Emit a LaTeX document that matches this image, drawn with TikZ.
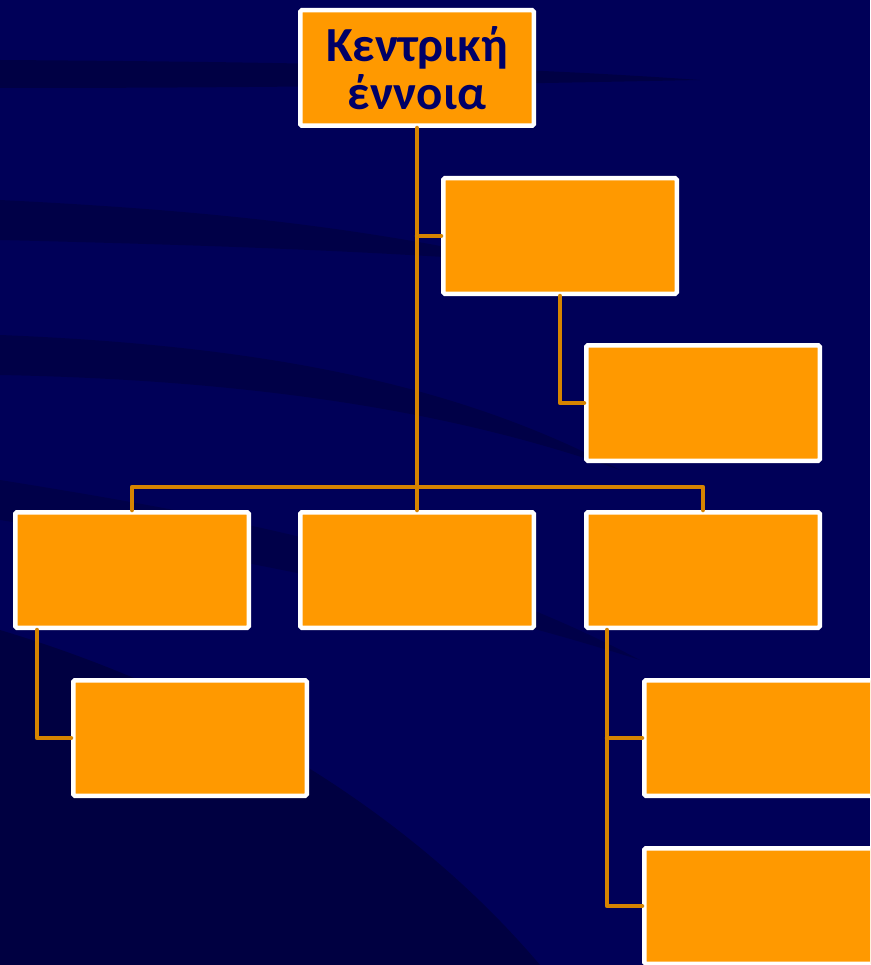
\documentclass[tikz,border=0pt]{standalone}
\usepackage{fontspec}
\setmainfont{Carlito}
\begin{document}
\begin{tikzpicture}[x=1pt,y=-1pt,
  box/.style={rectangle, draw=white, line width=4.5pt, fill=boxorange, rounded corners=1.5pt,
    minimum width=233.5pt, minimum height=115.5pt, inner sep=0pt},
  conn/.style={draw=connorange, line width=4.5pt, line cap=round, line join=round},
  streak/.style={fill=streakcol, draw=none}]
\definecolor{bgblue}{RGB}{0,0,88}
\definecolor{streakcol}{RGB}{0,0,60}
\definecolor{boxorange}{RGB}{255,153,0}
\definecolor{connorange}{RGB}{214,132,0}
\definecolor{textnavy}{RGB}{0,0,102}
\useasboundingbox (0,0) rectangle (870,965);
\clip (0,0) rectangle (870,965);
\fill[bgblue] (0,0) rectangle (870,965);
% background streaks
\fill[streak, opacity=0.7] (0,60) .. controls (300,62) and (500,66) .. (700,80) .. controls (500,84) and (300,88) .. (0,88) -- cycle;
\fill[streak, opacity=0.6] (0,200) .. controls (200,210) and (350,225) .. (520,262) .. controls (350,250) and (200,245) .. (0,240) -- cycle;
\fill[streak, opacity=0.6] (0,335) .. controls (250,345) and (450,380) .. (620,470) .. controls (450,410) and (250,380) .. (0,375) -- cycle;
\fill[streak, opacity=0.5] (0,480) .. controls (250,520) and (450,560) .. (640,660) .. controls (450,600) and (250,560) .. (0,520) -- cycle;
\fill[streak, opacity=0.8] (0,630) .. controls (200,690) and (400,800) .. (540,965) -- (0,965) -- cycle;
% nodes
\node[box, font=\bfseries\fontsize{49}{48}\selectfont, text=textnavy, align=center] (top) at (417,68) {Κεντρική\\έννοια};
\node[box] (A) at (560,236) {};
\node[box] (A1) at (703,403) {};
\node[box] (L) at (132,570) {};
\node[box] (M) at (417,570) {};
\node[box] (R) at (703,570) {};
\node[box] (L1) at (190,738) {};
\node[box] (R1) at (761,738) {};
\node[box] (R2) at (761,906) {};
\coordinate (bar) at (417,487);
% connectors
\draw[conn] (top.south) -- (M.north);
\draw[conn] (top.south |- A.west) -- (A.west);
\draw[conn] (A.south) |- (A1.west);
\draw[conn] (L.north) -- (L.north |- bar) -- (R.north |- bar) -- (R.north);
\draw[conn] ([xshift=24pt]L.south west) |- (L1.west);
\draw[conn] ([xshift=23pt]R.south west) |- (R2.west);
\draw[conn] ([xshift=23pt]R.south west |- R1.west) -- (R1.west);
\end{tikzpicture}
\end{document}
